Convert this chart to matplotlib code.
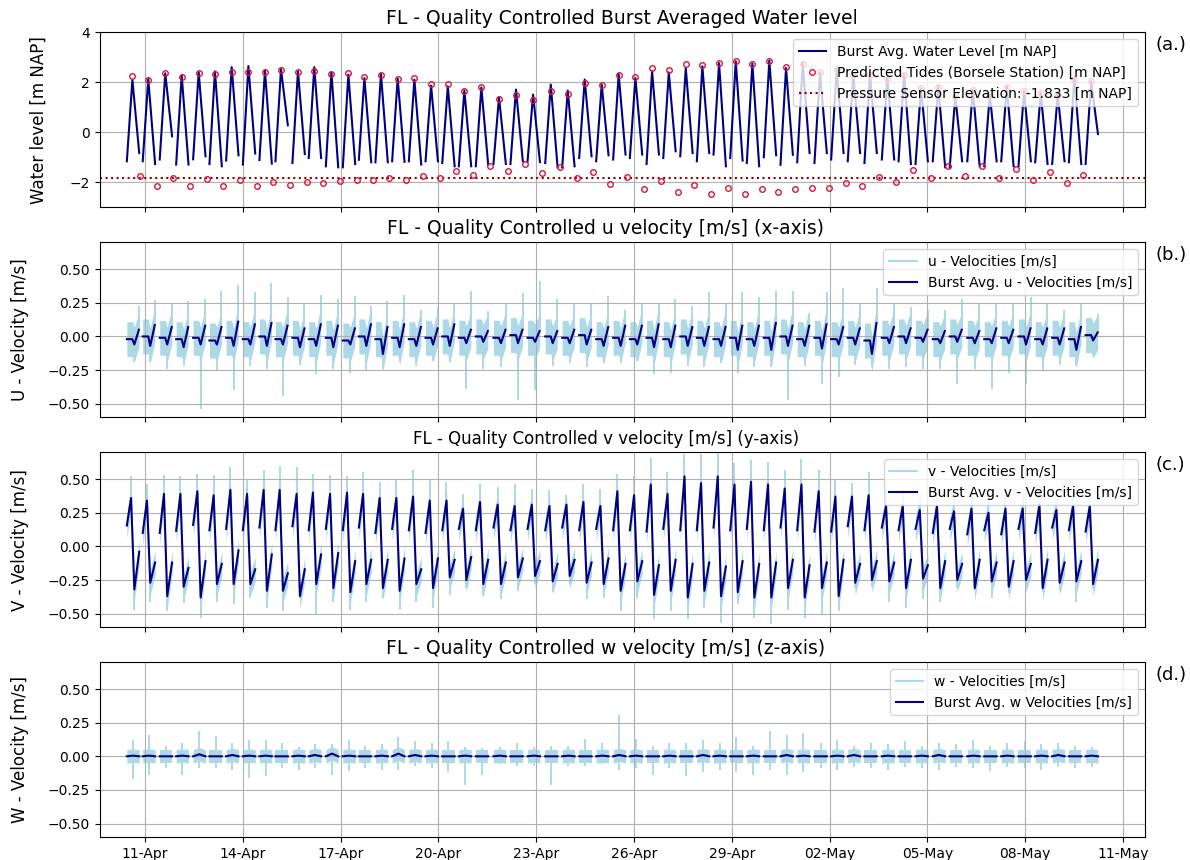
import matplotlib
matplotlib.use('Agg')
import matplotlib.dates as mdates
import matplotlib.pyplot as plt
import numpy as np
import pandas as pd
from matplotlib.lines import Line2D

# start of the deployment record, burst times are hours after this
t0 = pd.Timestamp('2024-04-10')

# high water times of each burst [h after t0]
hw_hours = [14.7, 26.4, 38.9, 51.0, 63.5, 75.5, 87.8, 100.1, 112.3, 124.1,
            136.6, 148.6, 161.2, 173.7, 185.5, 197.7, 210.0, 222.3, 234.6, 246.9,
            259.1, 271.6, 284.6, 297.1, 309.7, 322.7, 335.2, 347.7, 360.2, 372.7,
            385.0, 397.3, 409.6, 422.1, 434.3, 446.6, 458.9, 471.1, 483.6, 495.9,
            508.2, 520.9, 533.2, 545.4, 557.7, 570.5, 582.8, 595.3, 608.0, 620.5,
            633.4, 645.9, 658.4, 671.1, 683.4, 695.9, 708.2, 720.5]
# predicted low water times (Borsele) [h after t0]
lw_pred_hours = [20.3, 32.6, 44.8, 57.1, 69.4, 81.6, 93.9, 106.2, 118.5, 130.8,
                 143.0, 155.3, 167.6, 179.9, 191.6, 203.9, 216.2, 228.4, 241.2, 253.0,
                 265.7, 278.2, 291.0, 304.0, 316.5, 329.3, 341.8, 354.0, 366.6, 379.1,
                 391.6, 403.9, 416.2, 428.4, 440.9, 453.2, 465.7, 478.0, 490.2, 502.5,
                 514.8, 527.3, 539.9, 552.1, 564.6, 577.1, 589.6, 602.4, 615.0, 627.5,
                 640.0, 652.7, 665.2, 677.8, 690.3, 702.6, 714.8]

# burst averaged water level [m NAP]: first sample, high water, last sample
wl_start = [-1.16, -1.16, -1.09, -1.29, -1.08, -1.27, -1.13, -1.29, -1.11, -1.16,
            -1.23, -1.03, -1.36, -1.40, -1.10, -1.20, -1.16, -1.16, -1.16, -1.23,
            -1.36, -1.36, -1.27, -1.27, -1.16, -1.23, -1.40, -1.03, -1.16, -1.09,
            -1.03, -1.27, -1.03, -0.96, -1.16, -0.89, -1.03, -1.23, -1.00, -1.30,
            -1.20, -1.23, -1.09, -1.16, -1.23, -1.09, -1.16, -1.27, -1.16, -1.40,
            -1.16, -1.36, -1.16, -1.36, -1.20, -1.27, -1.20, -1.27]
wl_high = [2.10, 2.13, 2.36, 2.28, 2.41, 2.44, 2.61, 2.65, 2.47, 2.53,
           2.44, 2.61, 2.40, 2.31, 2.17, 2.33, 2.15, 2.11, 1.87, 1.84,
           1.67, 1.80, 1.41, 1.71, 1.51, 1.91, 1.67, 2.11, 1.91, 2.33,
           2.17, 2.44, 2.40, 2.57, 2.64, 2.77, 2.84, 2.75, 2.87, 2.57,
           2.77, 2.40, 2.53, 2.31, 2.31, 2.17, 2.33, 1.77, 1.84, 1.44,
           1.71, 1.51, 1.84, 1.64, 1.57, 1.51, 2.17, 2.04]
wl_end = [-0.83, -1.27, -0.16, -1.29, -0.96, -1.36, -0.92, -0.85, -1.25, 0.28,
          -0.87, -1.03, -1.40, -1.27, -1.20, -1.20, -1.18, -1.29, -1.16, -1.36,
          -1.36, -1.30, -1.27, -1.16, -1.19, -1.40, -1.36, -0.96, -0.92, -0.89,
          -0.89, -0.89, -0.76, -0.83, -0.83, -1.36, -1.13, -1.36, -0.92, -0.90,
          -0.83, -0.83, -0.83, -0.83, -0.83, -1.09, -1.27, -1.16, -1.40, -1.16,
          -1.36, -1.16, -1.36, -1.16, -1.27, -1.16, -1.27, -0.07]

# predicted tides, Borsele station [m NAP]
pred_high = [2.27, 2.11, 2.36, 2.23, 2.39, 2.32, 2.40, 2.43, 2.43, 2.48,
             2.40, 2.44, 2.33, 2.39, 2.23, 2.28, 2.12, 2.16, 1.92, 1.92,
             1.65, 1.80, 1.35, 1.48, 1.29, 1.64, 1.52, 1.96, 1.88, 2.31,
             2.21, 2.56, 2.51, 2.73, 2.71, 2.77, 2.84, 2.75, 2.84, 2.60,
             2.75, 2.40, 2.53, 2.30, 2.28, 2.15, 2.30, 1.77, 1.80, 1.40,
             1.71, 1.48, 1.80, 1.64, 1.57, 1.51, 2.13, 2.04]
pred_low = [-1.76, -2.16, -1.81, -2.16, -1.87, -2.16, -1.92, -2.16, -1.97, -2.11,
            -1.97, -2.01, -1.95, -1.92, -1.92, -1.84, -1.92, -1.73, -1.84, -1.56,
            -1.69, -1.35, -1.53, -1.25, -1.63, -1.40, -1.83, -1.59, -2.05, -1.80,
            -2.25, -1.96, -2.39, -2.12, -2.45, -2.23, -2.45, -2.28, -2.37, -2.28,
            -2.23, -2.23, -2.01, -2.13, -1.77, -1.97, -1.52, -1.84, -1.36, -1.76,
            -1.35, -1.81, -1.45, -1.92, -1.59, -2.01, -1.71]
sensor_elev = -1.833

# burst averaged u [m/s]: start, minimum, maximum
u_start = [-0.02, 0.00, -0.01, -0.02, -0.01, -0.03, -0.01, -0.02, 0.00, -0.02,
           -0.01, -0.02, -0.01, -0.03, 0.00, -0.02, -0.01, -0.02, -0.01, 0.00,
           -0.01, 0.00, -0.01, 0.01, -0.01, 0.00, -0.01, 0.01, -0.02, -0.01,
           -0.02, -0.01, -0.02, 0.00, -0.01, -0.02, -0.01, -0.02, -0.01, 0.00,
           -0.02, -0.01, -0.02, -0.01, -0.03, -0.01, 0.00, -0.01, -0.02, 0.00,
           -0.01, -0.02, -0.01, 0.00, -0.02, -0.01, -0.02, 0.01]
u_min = [-0.06, -0.07, -0.06, -0.08, -0.06, -0.06, -0.07, -0.06, -0.07, -0.06,
         -0.08, -0.07, -0.08, -0.06, -0.07, -0.13, -0.08, -0.07, -0.06, -0.07,
         -0.05, -0.04, -0.05, -0.05, -0.04, -0.05, -0.05, -0.06, -0.07, -0.07,
         -0.06, -0.08, -0.08, -0.07, -0.07, -0.07, -0.10, -0.07, -0.10, -0.07,
         -0.07, -0.09, -0.06, -0.06, -0.13, -0.05, -0.05, -0.04, -0.05, -0.04,
         -0.05, -0.05, -0.05, -0.06, -0.06, -0.06, -0.10, -0.03]
u_max = [0.05, 0.085, 0.07, 0.07, 0.08, 0.07, 0.11, 0.09, 0.10, 0.08,
         0.06, 0.09, 0.08, 0.06, 0.09, 0.07, 0.09, 0.07, 0.06, 0.09,
         0.05, 0.04, 0.05, 0.05, 0.04, 0.04, 0.05, 0.05, 0.07, 0.08,
         0.08, 0.09, 0.08, 0.07, 0.07, 0.07, 0.08, 0.08, 0.10, 0.08,
         0.08, 0.09, 0.07, 0.06, 0.10, 0.07, 0.06, 0.05, 0.04, 0.05,
         0.04, 0.06, 0.05, 0.06, 0.06, 0.06, 0.07, 0.03]
# highest / lowest raw u sample in each burst [m/s]
u_raw_top = [0.23, 0.27, 0.24, 0.26, 0.28, 0.34, 0.38, 0.33, 0.40, 0.29,
             0.24, 0.31, 0.28, 0.30, 0.23, 0.26, 0.31, 0.20, 0.22, 0.24,
             0.34, 0.19, 0.24, 0.32, 0.41, 0.28, 0.24, 0.25, 0.30, 0.20,
             0.24, 0.24, 0.28, 0.23, 0.33, 0.24, 0.33, 0.29, 0.34, 0.34,
             0.17, 0.33, 0.36, 0.25, 0.36, 0.24, 0.22, 0.20, 0.20, 0.28,
             0.24, 0.24, 0.24, 0.29, 0.24, 0.20, 0.25, 0.17]
u_raw_bot = [-0.19, -0.19, -0.24, -0.22, -0.54, -0.26, -0.40, -0.22, -0.24, -0.44,
             -0.21, -0.28, -0.24, -0.27, -0.25, -0.24, -0.19, -0.22, -0.18, -0.19,
             -0.39, -0.24, -0.23, -0.47, -0.40, -0.22, -0.20, -0.23, -0.20, -0.20,
             -0.18, -0.28, -0.27, -0.22, -0.23, -0.20, -0.27, -0.23, -0.23, -0.47,
             -0.22, -0.35, -0.30, -0.21, -0.23, -0.24, -0.23, -0.24, -0.24, -0.35,
             -0.24, -0.39, -0.27, -0.35, -0.25, -0.21, -0.22, -0.13]

# burst averaged v [m/s]: start, flood maximum, ebb minimum, end
v_start = [0.155, 0.10, 0.10, 0.115, 0.16, 0.12, 0.13, 0.12, 0.14, 0.12,
           0.15, 0.12, 0.13, 0.12, 0.14, 0.10, 0.13, 0.12, 0.10, 0.12,
           0.13, 0.12, 0.14, 0.12, 0.13, 0.12, 0.14, 0.12, 0.13, 0.12,
           0.12, 0.11, 0.13, 0.12, 0.12, 0.14, 0.12, 0.13, 0.12, 0.14,
           0.12, 0.11, 0.11, 0.15, 0.12, 0.14, 0.12, 0.13, 0.10, 0.13,
           0.09, 0.12, 0.09, 0.13, 0.10, 0.14, 0.12, 0.11]
v_max = [0.36, 0.34, 0.39, 0.39, 0.41, 0.38, 0.42, 0.39, 0.42, 0.42,
         0.39, 0.40, 0.39, 0.40, 0.39, 0.36, 0.36, 0.37, 0.34, 0.34,
         0.28, 0.33, 0.31, 0.30, 0.31, 0.30, 0.31, 0.33, 0.30, 0.41,
         0.38, 0.46, 0.39, 0.52, 0.47, 0.52, 0.46, 0.48, 0.46, 0.43,
         0.46, 0.41, 0.37, 0.37, 0.38, 0.30, 0.30, 0.27, 0.30, 0.26,
         0.28, 0.25, 0.28, 0.28, 0.31, 0.27, 0.30, 0.30]
v_min = [-0.32, -0.27, -0.37, -0.30, -0.38, -0.28, -0.28, -0.28, -0.33, -0.33,
         -0.37, -0.28, -0.31, -0.34, -0.28, -0.31, -0.33, -0.28, -0.31, -0.23,
         -0.25, -0.28, -0.28, -0.23, -0.22, -0.26, -0.22, -0.27, -0.28, -0.33,
         -0.26, -0.36, -0.33, -0.38, -0.33, -0.37, -0.34, -0.38, -0.38, -0.31,
         -0.38, -0.31, -0.37, -0.27, -0.25, -0.26, -0.31, -0.24, -0.31, -0.25,
         -0.31, -0.26, -0.30, -0.25, -0.31, -0.27, -0.26, -0.28]
v_end = [-0.04, -0.12, -0.12, -0.16, -0.11, -0.13, -0.03, -0.17, -0.06, -0.20,
         -0.17, -0.06, -0.05, -0.11, -0.10, -0.10, -0.09, -0.17, -0.09, -0.10,
         -0.08, -0.10, -0.12, -0.09, -0.11, -0.13, -0.10, -0.12, -0.09, -0.13,
         -0.11, -0.14, -0.10, -0.13, -0.12, -0.15, -0.11, -0.13, -0.12, -0.10,
         -0.14, -0.12, -0.10, -0.13, -0.11, -0.12, -0.10, -0.14, -0.11, -0.13,
         -0.10, -0.12, -0.11, -0.13, -0.10, -0.12, -0.11, -0.10]
v_raw_top = [0.52, 0.46, 0.53, 0.52, 0.54, 0.53, 0.59, 0.50, 0.57, 0.60,
             0.59, 0.54, 0.53, 0.52, 0.55, 0.48, 0.50, 0.57, 0.50, 0.48,
             0.39, 0.46, 0.44, 0.46, 0.43, 0.42, 0.38, 0.46, 0.43, 0.54,
             0.52, 0.66, 0.55, 0.69, 0.69, 0.70, 0.62, 0.64, 0.63, 0.57,
             0.65, 0.57, 0.50, 0.47, 0.55, 0.44, 0.42, 0.40, 0.42, 0.40,
             0.42, 0.40, 0.38, 0.40, 0.43, 0.38, 0.40, 0.36]
v_raw_bot = [-0.47, -0.41, -0.48, -0.42, -0.53, -0.41, -0.43, -0.38, -0.46, -0.48,
             -0.38, -0.50, -0.41, -0.47, -0.41, -0.38, -0.47, -0.41, -0.46, -0.36,
             -0.31, -0.37, -0.39, -0.33, -0.28, -0.34, -0.28, -0.39, -0.38, -0.48,
             -0.38, -0.54, -0.48, -0.54, -0.46, -0.57, -0.43, -0.53, -0.58, -0.47,
             -0.53, -0.50, -0.48, -0.31, -0.30, -0.41, -0.46, -0.39, -0.41, -0.31,
             -0.33, -0.38, -0.35, -0.31, -0.34, -0.33, -0.41, -0.32]

# burst averaged w [m/s] around high water, raw extremes per burst
w_mid = [0.005, 0.005, 0.00, 0.005, 0.015, 0.00, 0.01, 0.005, 0.005, 0.00,
         0.005, 0.01, 0.02, 0.005, 0.00, 0.005, 0.02, 0.01, 0.005, 0.00,
         0.005, 0.00, 0.005, 0.00, 0.005, 0.00, 0.005, 0.00, 0.005, 0.01,
         0.005, 0.00, 0.005, 0.00, 0.01, 0.005, 0.00, 0.005, 0.00, 0.01,
         0.005, 0.00, 0.005, 0.01, 0.00, 0.005, 0.00, 0.005, 0.01, 0.00,
         0.005, 0.00, 0.005, 0.00, 0.005, 0.01, 0.00, 0.005]
w_raw_top = [0.12, 0.16, 0.08, 0.10, 0.19, 0.15, 0.10, 0.12, 0.12, 0.10,
             0.07, 0.09, 0.09, 0.12, 0.08, 0.09, 0.14, 0.11, 0.10, 0.11,
             0.07, 0.06, 0.07, 0.10, 0.07, 0.08, 0.08, 0.13, 0.10, 0.31,
             0.13, 0.08, 0.10, 0.10, 0.12, 0.10, 0.14, 0.08, 0.19, 0.16,
             0.17, 0.10, 0.12, 0.08, 0.10, 0.09, 0.11, 0.08, 0.10, 0.09,
             0.12, 0.08, 0.10, 0.11, 0.09, 0.10, 0.08, 0.07]
w_raw_bot = [-0.17, -0.14, -0.09, -0.14, -0.09, -0.09, -0.10, -0.16, -0.15, -0.09,
             -0.10, -0.09, -0.14, -0.11, -0.09, -0.10, -0.10, -0.07, -0.09, -0.12,
             -0.21, -0.14, -0.06, -0.07, -0.07, -0.21, -0.07, -0.07, -0.06, -0.10,
             -0.09, -0.14, -0.09, -0.15, -0.12, -0.10, -0.12, -0.14, -0.10, -0.14,
             -0.12, -0.09, -0.10, -0.08, -0.09, -0.10, -0.08, -0.09, -0.10, -0.08,
             -0.09, -0.11, -0.08, -0.09, -0.10, -0.08, -0.09, -0.08]

# typical scatter of the raw samples around the burst mean [m/s]
u_scatter = 0.13
v_scatter = 0.09
w_scatter = 0.05

hw_num = mdates.date2num((t0 + pd.to_timedelta(hw_hours, unit='h')).to_pydatetime())
lw_num = mdates.date2num((t0 + pd.to_timedelta(lw_pred_hours, unit='h')).to_pydatetime())

# sample times inside a burst, days relative to high water
wl_offsets = [-0.17, 0.0, 0.21]
u_offsets = [-0.17, 0.0, 0.06, 0.20]
v_offsets = [-0.17, -0.04, 0.06, 0.21]
w_offsets = [-0.17, 0.02, 0.21]


def burst_line(offsets, columns):
    """Join the bursts into one line, NaN between bursts so it breaks."""
    xs, ys = [], []
    for i, tc in enumerate(hw_num):
        xs.extend(tc + np.array(offsets))
        ys.extend(col[i] for col in columns)
        xs.append(np.nan)
        ys.append(np.nan)
    return np.array(xs), np.array(ys)


def plot_raw(ax, offsets, columns, scatter, top, bot, top_key, bot_key):
    """Raw samples: band around the burst mean plus the extreme samples."""
    for i, tc in enumerate(hw_num):
        x = tc + np.array(offsets)
        y = np.array([col[i] for col in columns])
        ax.fill_between(x, y - scatter, y + scatter, color='lightblue', lw=0, zorder=1)
        ax.vlines(tc + offsets[top_key], columns[top_key][i], top[i],
                  color='lightblue', lw=1.4, zorder=1)
        ax.vlines(tc + offsets[bot_key], columns[bot_key][i], bot[i],
                  color='lightblue', lw=1.4, zorder=1)


fig, axes = plt.subplots(4, 1, figsize=(11.9, 8.6), dpi=100, sharex=True)
plt.subplots_adjust(left=0.084, right=0.962, top=0.9624, bottom=0.0267, hspace=0.2)

# (a.) water level
ax = axes[0]
x, y = burst_line(wl_offsets, [wl_start, wl_high, wl_end])
ax.plot(x, y, color='navy', lw=1.5, label='Burst Avg. Water Level [m NAP]', zorder=3)
ax.plot(np.concatenate([hw_num, lw_num]), pred_high + pred_low, 'o', ls='none',
        ms=4, mfc='none', mec='crimson', mew=1.0, zorder=4,
        label='Predicted Tides (Borsele Station) [m NAP]')
ax.axhline(sensor_elev, color='darkred', ls=':', lw=1.5,
           label=f'Pressure Sensor Elevation: {sensor_elev} [m NAP]')
ax.set_ylim(-3, 4)
ax.set_yticks([-2, 0, 2, 4])
ax.set_ylabel('Water level [m NAP]', fontsize=12, labelpad=16)
ax.set_title('FL - Quality Controlled Burst Averaged Water level', fontsize=13.5)
ax.legend(loc='upper right', fontsize=10)

# (b.) - (d.) velocities
panels = [
    ('u', u_offsets, [u_start, u_start, u_min, u_max], u_scatter, u_raw_top, u_raw_bot, 3, 2,
     'FL - Quality Controlled u velocity [m/s] (x-axis)', 'U - Velocity [m/s]',
     'Burst Avg. u - Velocities [m/s]', 13.5),
    ('v', v_offsets, [v_start, v_max, v_min, v_end], v_scatter, v_raw_top, v_raw_bot, 1, 2,
     'FL - Quality Controlled v velocity [m/s] (y-axis)', 'V - Velocity [m/s]',
     'Burst Avg. v - Velocities [m/s]', 12),
    ('w', w_offsets, [[0.0] * len(w_mid), w_mid, [0.0] * len(w_mid)], w_scatter,
     w_raw_top, w_raw_bot, 1, 1,
     'FL - Quality Controlled w velocity [m/s] (z-axis)', 'W - Velocity [m/s]',
     'Burst Avg. w Velocities [m/s]', 13.5),
]
for ax, (comp, offs, cols, sc, top, bot, tk, bk, title, ylabel, avg_label, tsize) in zip(axes[1:], panels):
    plot_raw(ax, offs, cols, sc, top, bot, tk, bk)
    x, y = burst_line(offs, cols)
    ax.plot(x, y, color='navy', lw=1.5, zorder=3)
    ax.set_ylim(-0.6, 0.7)
    ax.set_yticks([-0.5, -0.25, 0.0, 0.25, 0.5])
    ax.set_ylabel(ylabel, fontsize=12, labelpad=14)
    ax.set_title(title, fontsize=tsize, x=0.484)
    handles = [Line2D([], [], color='lightblue', lw=1.5),
               Line2D([], [], color='navy', lw=1.5)]
    ax.legend(handles, [f'{comp} - Velocities [m/s]', avg_label],
              loc='upper right', fontsize=10)

for ax, tag in zip(axes, ['(a.)', '(b.)', '(c.)', '(d.)']):
    ax.grid(True)
    ax.tick_params(labelsize=10)
    ax.text(1.01, 0.925, tag, transform=ax.transAxes, fontsize=13,
            ha='left', va='center')

axes[-1].set_xlim(mdates.date2num(pd.Timestamp('2024-04-09 14:50')),
                  mdates.date2num(pd.Timestamp('2024-05-11 16:00')))
axes[-1].xaxis.set_major_locator(
    plt.FixedLocator(mdates.date2num(pd.date_range('2024-04-11', '2024-05-11', freq='3D').to_pydatetime())))
axes[-1].xaxis.set_major_formatter(mdates.DateFormatter('%d-%b'))

fig.savefig('out.png', dpi=100)
